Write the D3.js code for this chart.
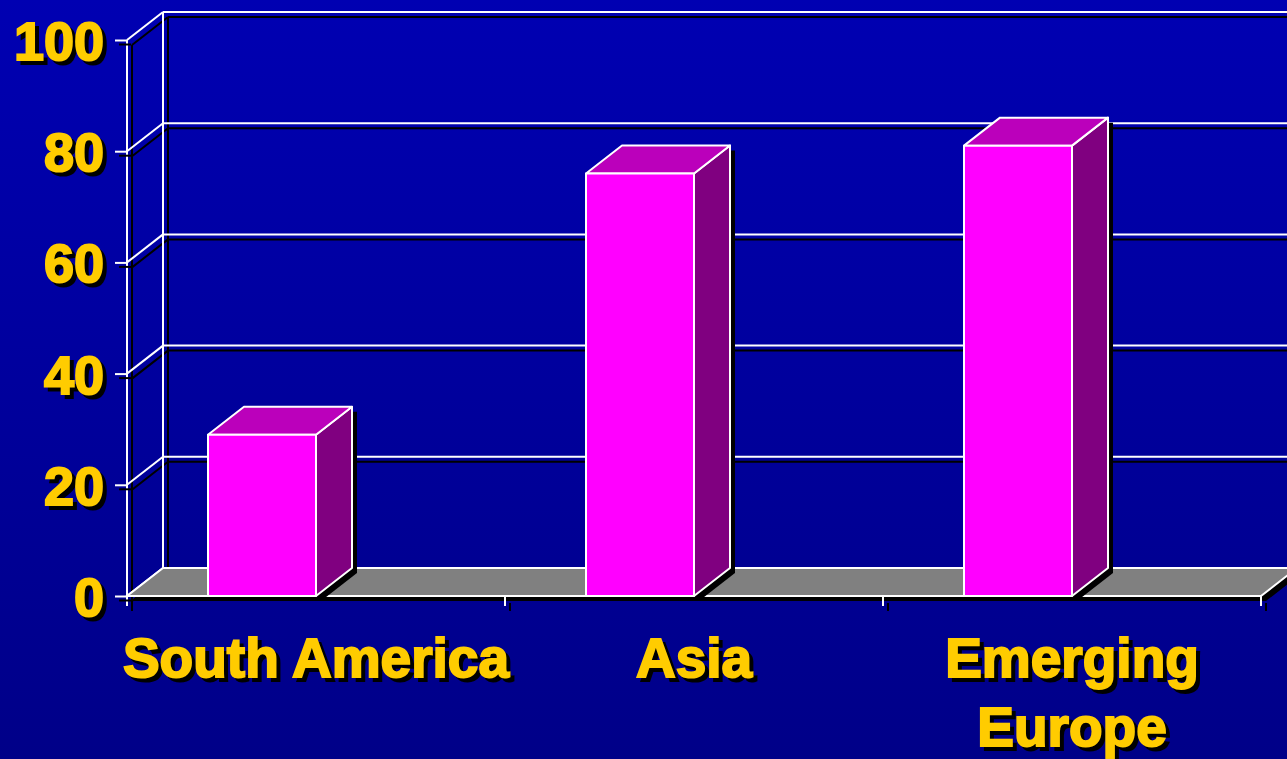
<!DOCTYPE html>
<html>
<head>
<meta charset="utf-8">
<script src="https://cdn.jsdelivr.net/npm/d3@7"></script>
<style>
  html, body { margin: 0; padding: 0; background: #00009c; }
  svg { display: block; }
</style>
</head>
<body>
<svg id="chart" width="1287" height="759"></svg>
<script>
// ---- data ----
const categories = ["South America", "Asia", "Emerging Europe"];
const values = [29, 76, 81];
const categoryLabels = [["South America"], ["Asia"], ["Emerging", "Europe"]];
const yTicks = [0, 20, 40, 60, 80, 100];

// ---- layout ----
const W = 1287, H = 759;
const DX = 36, DY = -28;          // 3D depth offset
const SH = 5;                     // shadow offset
const GOLD = "#ffcc00";
const FONT = "'Liberation Sans', Arial, sans-serif";

const svg = d3.select("#chart");
const defs = svg.append("defs");
const grad = defs.append("linearGradient").attr("id", "bg").attr("x1", 0).attr("y1", 0).attr("x2", 0).attr("y2", 1);
grad.append("stop").attr("offset", "0%").attr("stop-color", "#0000b2");
grad.append("stop").attr("offset", "100%").attr("stop-color", "#000088");
svg.append("rect").attr("width", W).attr("height", H).attr("fill", "url(#bg)");

const y = d3.scaleLinear().domain([0, 100]).range([596, 40]);
const x = d3.scaleBand().domain(categories).range([127, 1261]).padding(0);
const step = x.step();
const barOffset = step * 81 / 378;
const barWidth = step * 108 / 378;
const x0 = x.range()[0], x1 = x.range()[1];
const wallRight = W + 20;

// ---- walls (shadow then white) ----
function wallLines(g, color, off) {
  const gg = g.append("g").attr("transform", `translate(${off},${off})`)
    .attr("stroke", color).attr("stroke-width", 2).attr("fill", "none");
  yTicks.forEach(t => {
    gg.append("line").attr("x1", x0 + DX).attr("x2", wallRight)
      .attr("y1", y(t) + DY).attr("y2", y(t) + DY);
    gg.append("line").attr("x1", x0).attr("x2", x0 + DX)
      .attr("y1", y(t)).attr("y2", y(t) + DY);
  });
  gg.append("line").attr("x1", x0 + DX).attr("x2", x0 + DX)
    .attr("y1", y(100) + DY).attr("y2", y(0) + DY);
  gg.append("line").attr("x1", x0).attr("x2", x0)
    .attr("y1", y(100)).attr("y2", y(0) + 10);
  return gg;
}
const wallG = svg.append("g");
wallLines(wallG, "#000", SH);
wallLines(wallG, "#fff", 0);

// ---- y axis ticks & labels via d3 axis ----
function yAxis(off, color, textColor) {
  const g = svg.append("g")
    .attr("transform", `translate(${x0 + off},${off})`)
    .call(d3.axisLeft(y).tickValues(yTicks).tickSize(12).tickPadding(11).tickSizeOuter(0));
  g.select(".domain").remove();
  g.selectAll(".tick line").attr("stroke", color).attr("stroke-width", 2);
  g.selectAll(".tick text")
    .attr("fill", textColor).attr("stroke", textColor).attr("stroke-width", 2)
    .attr("font-family", FONT).attr("font-weight", "bold").attr("font-size", 54)
    .attr("dy", "0.36em");
  return g;
}

// ---- floor ----
const floorPts = [[x0, y(0)], [x1, y(0)], [x1 + DX, y(0) + DY], [x0 + DX, y(0) + DY]];
svg.append("polygon").attr("points", floorPts.map(p => [p[0] + SH, p[1] + SH].join(",")).join(" "))
  .attr("fill", "#000");
svg.append("polygon").attr("points", floorPts.map(p => p.join(",")).join(" "))
  .attr("fill", "#808080").attr("stroke", "#fff").attr("stroke-width", 2);

// ---- x ticks ----
const xTickPos = categories.map(c => x(c)).concat([x1]);
xTickPos.forEach(px => {
  svg.append("line").attr("x1", px + SH).attr("x2", px + SH).attr("y1", y(0) + 2 + SH).attr("y2", y(0) + 10 + SH)
    .attr("stroke", "#000").attr("stroke-width", 2);
  svg.append("line").attr("x1", px).attr("x2", px).attr("y1", y(0)).attr("y2", y(0) + 10)
    .attr("stroke", "#fff").attr("stroke-width", 2);
});
svg.append("line").attr("x1", x0).attr("x2", x1).attr("y1", y(0)).attr("y2", y(0))
  .attr("stroke", "#fff").attr("stroke-width", 2);

// ---- y axis ----
yAxis(4, "#000", "#000");
yAxis(0, "#fff", GOLD);

// ---- bars ----
const bars = svg.append("g");
categories.forEach((c, i) => {
  const v = values[i];
  const L = x(c) + barOffset, R = L + barWidth;
  const T = y(v), B = y(0);
  const front = [[L, T], [R, T], [R, B], [L, B]];
  const top = [[L, T], [L + DX, T + DY], [R + DX, T + DY], [R, T]];
  const side = [[R, T], [R + DX, T + DY], [R + DX, B + DY], [R, B]];
  const outline = [[L, B], [L, T], [L + DX, T + DY], [R + DX, T + DY], [R + DX, B + DY], [R, B]];
  const pts = a => a.map(p => p.join(",")).join(" ");
  bars.append("polygon").attr("points", pts(outline.map(p => [p[0] + SH, p[1] + SH])))
    .attr("fill", "#000");
  bars.append("polygon").attr("points", pts(side)).attr("fill", "#800080")
    .attr("stroke", "#fff").attr("stroke-width", 2).attr("stroke-linejoin", "round");
  bars.append("polygon").attr("points", pts(top)).attr("fill", "#bb00bb")
    .attr("stroke", "#fff").attr("stroke-width", 2).attr("stroke-linejoin", "round");
  bars.append("polygon").attr("points", pts(front)).attr("fill", "#ff00ff")
    .attr("stroke", "#fff").attr("stroke-width", 2).attr("stroke-linejoin", "round");
});

// ---- category labels ----
function catLabels(off, color) {
  const g = svg.append("g").attr("transform", `translate(${off},${off})`);
  categories.forEach((c, i) => {
    const cx = x(c) + x.bandwidth() / 2;
    const t = g.append("text").attr("x", cx).attr("y", 677)
      .attr("text-anchor", "middle")
      .attr("fill", color).attr("stroke", color).attr("stroke-width", 2)
      .attr("font-family", FONT).attr("font-weight", "bold").attr("font-size", 55);
    categoryLabels[i].forEach((line, j) => {
      t.append("tspan").attr("x", cx).attr("dy", j === 0 ? 0 : 69).text(line);
    });
  });
}
catLabels(4, "#000");
catLabels(0, GOLD);
</script>
</body>
</html>
